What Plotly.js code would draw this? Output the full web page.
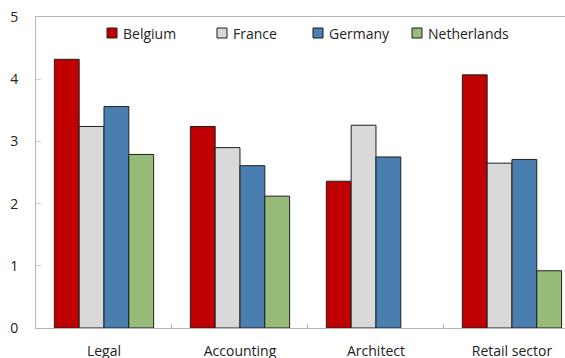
<!DOCTYPE html>
<html>
<head>
<meta charset="utf-8">
<script src="https://cdn.plot.ly/plotly-3.0.1.min.js"></script>
<style>
  html, body { margin: 0; padding: 0; background: #fff; }
  #chart { width: 565px; height: 358px; }
</style>
</head>
<body>
<div id="chart"></div>
<script>
// Sectors on the horizontal axis
const categories = ["Legal", "Accounting", "Architect", "Retail sector"];

// Scores per country (Netherlands has no Architect value)
const belgium     = [4.32, 3.24, 2.36, 4.07];
const france      = [3.24, 2.90, 3.26, 2.65];
const germany     = [3.56, 2.61, 2.75, 2.71];
const netherlands = [2.79, 2.12, null, 0.92];

const yTicks = [0, 1, 2, 3, 4, 5];

const seriesNames  = ["Belgium", "France", "Germany", "Netherlands"];
const seriesValues = [belgium, france, germany, netherlands];
const seriesColors = ["#c00000", "#d9d9d9", "#4a7eb0", "#97bb78"];

const W = 565, H = 358;
const margin = { l: 36, r: 0, t: 17, b: 30 };
const plotW = W - margin.l - margin.r;
const plotH = H - margin.t - margin.b;

// pixel -> paper helpers for the legend row
const px = x => (x - margin.l) / plotW;
const py = y => (H - margin.b - y) / plotH;

const traces = seriesNames.map((name, i) => ({
  type: "bar",
  name: name,
  x: categories,
  y: seriesValues[i],
  marker: { color: seriesColors[i], line: { color: "#1f1f1f", width: 1 } },
  hoverinfo: "x+y+name"
}));

const font = { family: "Open Sans, Noto Sans, sans-serif", size: 14, color: "#222" };

// Legend row: swatch left edge for each entry
const legendLeft = [107, 217, 313, 412];
const legendY = 33;
const swatch = 10;

const shapes = seriesNames.map((name, i) => ({
  type: "rect",
  xref: "paper", yref: "paper",
  x0: px(legendLeft[i]), x1: px(legendLeft[i] + swatch),
  y0: py(legendY + swatch / 2), y1: py(legendY - swatch / 2),
  fillcolor: seriesColors[i],
  line: { color: "#1f1f1f", width: 1 }
}));

const annotations = seriesNames.map((name, i) => ({
  xref: "paper", yref: "paper",
  x: px(legendLeft[i] + swatch + 4), y: py(legendY),
  xanchor: "left", yanchor: "middle",
  text: name,
  showarrow: false,
  font: { family: font.family, size: 14, color: "#222" }
}));

const layout = {
  width: W,
  height: H,
  margin: margin,
  paper_bgcolor: "#ffffff",
  plot_bgcolor: "#ffffff",
  font: font,
  barmode: "group",
  bargap: 0.27,
  bargroupgap: 0,
  showlegend: false,
  shapes: shapes,
  annotations: annotations,
  xaxis: {
    type: "category",
    range: [-0.5, 3.39],
    showline: true,
    linecolor: "#b5b5b5",
    linewidth: 1,
    mirror: true,
    showgrid: false,
    ticks: "inside",
    tickson: "boundaries",
    ticklen: 4,
    tickcolor: "#b5b5b5",
    ticklabelstandoff: 10,
    tickfont: { family: font.family, size: 14, color: "#222" },
    fixedrange: true
  },
  yaxis: {
    range: [0, 5],
    tickvals: yTicks,
    ticktext: yTicks.map(String),
    showline: true,
    linecolor: "#b5b5b5",
    linewidth: 1,
    mirror: true,
    showgrid: false,
    zeroline: false,
    ticks: "inside",
    ticklen: 5,
    tickcolor: "#d0d0d0",
    ticklabelstandoff: 14,
    tickfont: { family: font.family, size: 14, color: "#222" },
    fixedrange: true
  }
};

Plotly.newPlot("chart", traces, layout, { displayModeBar: false, staticPlot: true });
</script>
</body>
</html>
